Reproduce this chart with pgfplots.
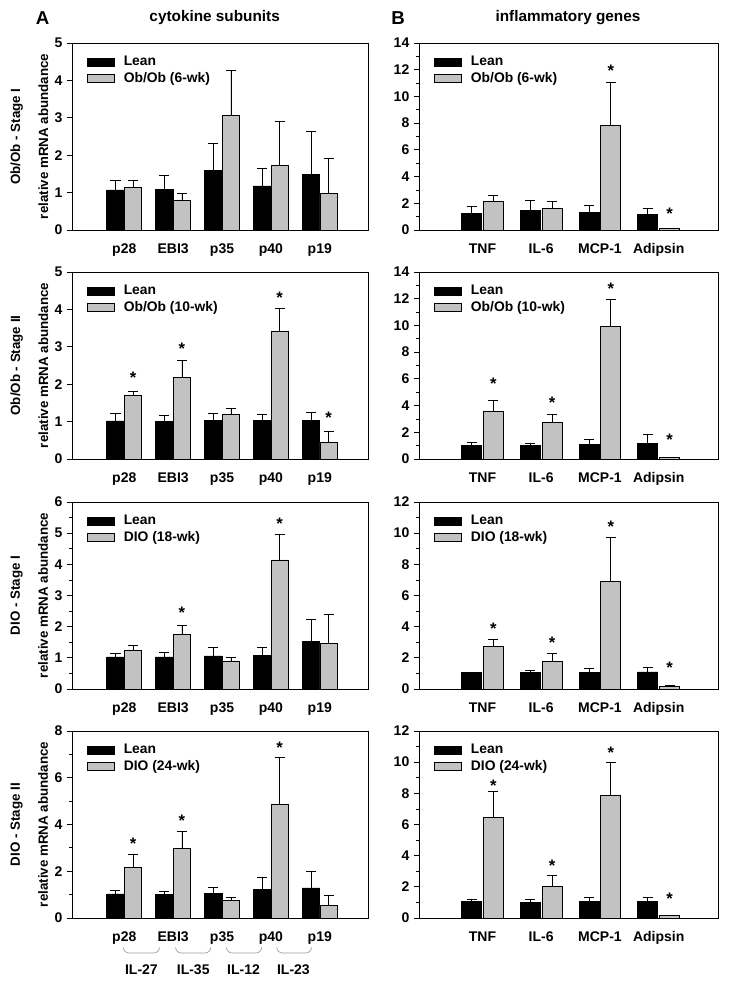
\documentclass[border=0pt]{standalone}
\usepackage{pgfplots}
\pgfplotsset{compat=1.18}
\usepackage{pgfplotstable}
\usepackage{fontspec}
\setmainfont{Liberation Sans}
\definecolor{bgray}{RGB}{194,194,194}

% columns: x, Lean, Lean error, obese, obese error
\pgfplotstableread{
x L Le O Oe
0 1.07 0.25 1.14 0.19
1 1.09 0.37 0.80 0.18
2 1.60 0.71 3.06 1.21
3 1.18 0.46 1.73 1.17
4 1.48 1.16 0.98 0.93
}\tAa
\pgfplotstableread{
x L Le O Oe
0 1.25 0.54 2.17 0.40
1 1.49 0.70 1.62 0.50
2 1.32 0.50 7.80 3.26
3 1.17 0.42 0.12 0.00
}\tBa
\pgfplotstableread{
x L Le O Oe
0 1.02 0.19 1.71 0.11
1 1.01 0.16 2.19 0.46
2 1.03 0.18 1.20 0.15
3 1.03 0.16 3.42 0.62
4 1.03 0.21 0.45 0.30
}\tAb
\pgfplotstableread{
x L Le O Oe
0 1.02 0.22 3.59 0.82
1 1.02 0.17 2.75 0.57
2 1.09 0.35 9.91 2.08
3 1.19 0.62 0.10 0.00
}\tBb
\pgfplotstableread{
x L Le O Oe
0 1.03 0.12 1.23 0.16
1 1.03 0.16 1.75 0.29
2 1.06 0.28 0.90 0.13
3 1.08 0.26 4.14 0.82
4 1.53 0.71 1.47 0.91
}\tAc
\pgfplotstableread{
x L Le O Oe
0 1.04 0.06 2.71 0.46
1 1.06 0.15 1.76 0.50
2 1.08 0.27 6.90 2.81
3 1.10 0.28 0.19 0.06
}\tBc
\pgfplotstableread{
x L Le O Oe
0 1.03 0.14 2.17 0.57
1 1.02 0.11 2.97 0.74
2 1.06 0.25 0.75 0.13
3 1.24 0.50 4.87 2.01
4 1.29 0.69 0.54 0.41
}\tAd
\pgfplotstableread{
x L Le O Oe
0 1.04 0.19 6.43 1.70
1 1.02 0.17 2.02 0.70
2 1.06 0.24 7.88 2.10
3 1.06 0.28 0.15 0.00
}\tBd

\pgfplotsset{
  panel/.style={
    scale only axis, height=140.25pt, ymin=0,
    axis line style={line width=0.7pt},
    tick align=outside, ytick pos=left, xtick pos=bottom,
    major tick length=3.75pt, minor tick length=2.2pt,
    tick style={line width=0.6pt, black},
    xtick style={draw=none},
    /pgf/number format/assume math mode=true,
    tick label style={font=\fontsize{10.5}{12}\selectfont\bfseries},
    xticklabel style={yshift=-3pt},
    legend cell align=left,
    legend style={draw=none, fill=none, at={(axis description cs:0.05,0.935)}, anchor=north west,
      inner sep=0pt, row sep=2pt, font=\fontsize{10.4}{12}\selectfont\bfseries,
      nodes={inner ysep=0.6pt, inner xsep=3pt},
      /tikz/every odd column/.append style={column sep=4pt}},
    every axis y label/.style={at={(axis description cs:-0.144,0.5)}, rotate=90, anchor=center,
      align=center, font=\fontsize{10}{12}\selectfont\bfseries},
  },
  panelA/.style={panel, width=222.5pt, xmin=-1.07, xmax=5.0, xtick={0,...,4},
    xticklabels={p28,EBI3,p35,p40,p19}},
  panelB/.style={panel, width=224.25pt, xmin=-1.08, xmax=4.01, xtick={0,...,3},
    xticklabels={TNF,IL-6,MCP-1,Adipsin}, minor y tick num=1},
  lbox/.style={legend image code/.code={\draw[##1] (0pt,-2.9pt) rectangle (20pt,2.9pt);}},
  ebar/.style={error bars/.cd, y dir=plus, y explicit,
    error bar style={line width=0.5pt, black},
    error mark options={black, line width=0.5pt, mark size=3.75pt, rotate=90}},
  leanA/.style={ybar, bar width=0.355, bar shift=0, fill=black, draw=black, line width=0.5pt, lbox, ebar},
  obA/.style={ybar, bar width=0.355, bar shift=0, fill=bgray, draw=black, line width=0.5pt, lbox, ebar},
  leanB/.style={ybar, bar width=0.34, bar shift=0, fill=black, draw=black, line width=0.5pt, lbox, ebar},
  obB/.style={ybar, bar width=0.34, bar shift=0, fill=bgray, draw=black, line width=0.5pt, lbox, ebar},
}
\newcommand\sig[2]{\node[font=\fontsize{12.5}{12}\selectfont\bfseries, inner sep=0pt, yshift=-2.5pt] at (axis cs:#1,#2) {*};}
\newcommand\brk[4]{%
  \draw[black!40, line width=0.5pt] ([yshift=-22pt]axis cs:#1,0) to[out=-90,in=180] ([yshift=-26.25pt]axis cs:#2,0)
     -- ([yshift=-26.25pt]axis cs:#3,0) to[out=0,in=-90] ([yshift=-22pt]axis cs:#4,0);}
\newcommand\ilab[2]{\node[font=\fontsize{10.5}{12}\selectfont\bfseries] at ([yshift=-39pt]axis cs:#1,0) {#2};}
% plots of one panel: lean bars left of each category, obese bars right of it
\newcommand\barsA[1]{%
\addplot[leanA] table[x expr=\thisrow{x}-0.18, y=L, y error=Le] {#1};
\addplot[obA] table[x expr=\thisrow{x}+0.18, y=O, y error=Oe] {#1};}
\newcommand\barsB[1]{%
\addplot[leanB] table[x expr=\thisrow{x}-0.185, y=L, y error=Le] {#1};
\addplot[obB] table[x expr=\thisrow{x}+0.185, y=O, y error=Oe] {#1};}

\begin{document}
\begin{tikzpicture}
\useasboundingbox (0,0) rectangle (546.75pt,-738pt);
\node[font=\fontsize{14}{14}\selectfont\bfseries] at (32pt,-13.5pt) {A};
\node[font=\fontsize{11.5}{12}\selectfont\bfseries] at (161pt,-13.5pt) {cytokine subunits};
\node[font=\fontsize{14}{14}\selectfont\bfseries] at (298.5pt,-13.5pt) {B};
\node[font=\fontsize{11.5}{12}\selectfont\bfseries] at (426pt,-13.5pt) {inflammatory genes};

% ---- Row 1
\begin{axis}[panelA, at={(54pt,-172.5pt)}, anchor=south west, ymax=5, ytick={0,...,5},
  ylabel={Ob/Ob - Stage I\\[9pt]relative mRNA abundance}]
\barsA{\tAa}
\legend{Lean, Ob/Ob (6-wk)}
\end{axis}
\begin{axis}[panelB, at={(314.25pt,-172.5pt)}, anchor=south west, ymax=14, ytick={0,2,...,14}]
\barsB{\tBa}
\legend{Lean, Ob/Ob (6-wk)}
\sig{2.185}{12.2}
\sig{3.185}{1.45}
\end{axis}

% ---- Row 2
\begin{axis}[panelA, at={(54pt,-344.25pt)}, anchor=south west, ymax=5, ytick={0,...,5},
  ylabel={Ob/Ob - Stage II\\[9pt]relative mRNA abundance}]
\barsA{\tAb}
\legend{Lean, Ob/Ob (10-wk)}
\sig{0.18}{2.26}
\sig{1.18}{3.03}
\sig{3.18}{4.40}
\sig{4.18}{1.19}
\end{axis}
\begin{axis}[panelB, at={(314.25pt,-344.25pt)}, anchor=south west, ymax=14, ytick={0,2,...,14}]
\barsB{\tBb}
\legend{Lean, Ob/Ob (10-wk)}
\sig{0.185}{5.85}
\sig{1.185}{4.46}
\sig{2.185}{12.96}
\sig{3.185}{1.68}
\end{axis}

% ---- Row 3
\begin{axis}[panelA, at={(54pt,-516.75pt)}, anchor=south west, ymax=6, ytick={0,...,6}, minor y tick num=1,
  ylabel={DIO - Stage I\\[9pt]relative mRNA abundance}]
\barsA{\tAc}
\legend{Lean, DIO (18-wk)}
\sig{1.18}{2.54}
\sig{3.18}{5.42}
\end{axis}
\begin{axis}[panelB, at={(314.25pt,-516.75pt)}, anchor=south west, ymax=12, ytick={0,2,...,12}]
\barsB{\tBc}
\legend{Lean, DIO (18-wk)}
\sig{0.185}{4.08}
\sig{1.185}{3.15}
\sig{2.185}{10.62}
\sig{3.185}{1.57}
\end{axis}

% ---- Row 4
\begin{axis}[panelA, at={(54pt,-688.5pt)}, anchor=south west, ymax=8, ytick={0,2,...,8}, minor y tick num=1,
  clip=false, ylabel={DIO - Stage II\\[9pt]relative mRNA abundance}]
\barsA{\tAd}
\legend{Lean, DIO (24-wk)}
\sig{0.18}{3.32}
\sig{1.18}{4.31}
\sig{3.18}{7.42}
\brk{-0.02}{0.10}{0.60}{0.72}
\brk{1.05}{1.17}{1.65}{1.77}
\brk{2.09}{2.21}{2.69}{2.81}
\brk{3.12}{3.24}{3.71}{3.83}
\ilab{0.35}{IL-27}
\ilab{1.41}{IL-35}
\ilab{2.44}{IL-12}
\ilab{3.46}{IL-23}
\end{axis}
\begin{axis}[panelB, at={(314.25pt,-688.5pt)}, anchor=south west, ymax=12, ytick={0,2,...,12}]
\barsB{\tBd}
\legend{Lean, DIO (24-wk)}
\sig{0.185}{8.70}
\sig{1.185}{3.55}
\sig{2.185}{10.83}
\sig{3.185}{1.44}
\end{axis}
\end{tikzpicture}
\end{document}
